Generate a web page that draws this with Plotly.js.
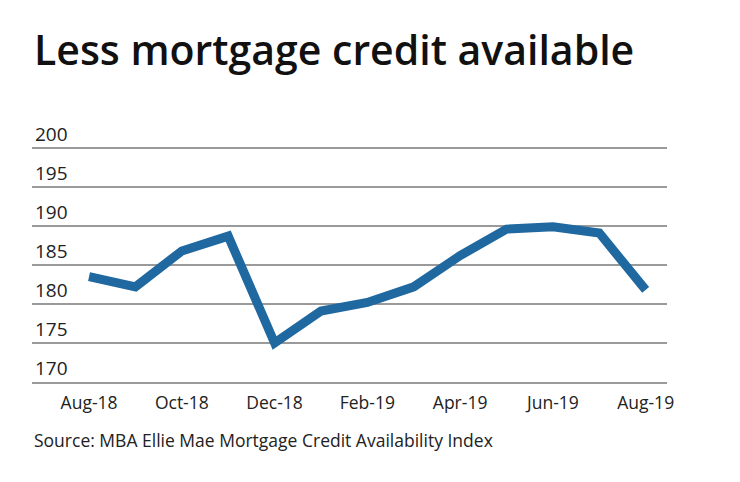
<!DOCTYPE html>
<html>
<head>
<meta charset="utf-8">
<script src="https://cdn.plot.ly/plotly-3.0.1.min.js"></script>
<style>html,body{margin:0;padding:0;background:#fff;}#chart{width:740px;height:482px;}</style>
</head>
<body>
<div id="chart"></div>
<script>
const months = ['Aug-18','Sep-18','Oct-18','Nov-18','Dec-18','Jan-19','Feb-19','Mar-19','Apr-19','May-19','Jun-19','Jul-19','Aug-19'];
const indexValues = [183.5, 182.2, 186.8, 188.7, 175.0, 179.1, 180.2, 182.2, 186.2, 189.6, 189.9, 189.1, 181.8];
const xTickLabels = ['Aug-18','Oct-18','Dec-18','Feb-19','Apr-19','Jun-19','Aug-19'];
const yTickValues = [170, 175, 180, 185, 190, 195, 200];
const titleText = 'Less mortgage credit available';
const sourceText = 'Source: MBA Ellie Mae Mortgage Credit Availability Index';

const fontFam = '"Open Sans", sans-serif';
const data = [{
  x: months, y: indexValues, type: 'scatter', mode: 'lines',
  line: {color: '#1f68a0', width: 9, shape: 'linear'},
  hoverinfo: 'skip'
}];
const layout = {
  width: 740, height: 482,
  margin: {l: 32, r: 73, t: 109, b: 100},
  paper_bgcolor: '#fff', plot_bgcolor: '#fff',
  showlegend: false,
  font: {family: fontFam, color: '#222'},
  title: {text: titleText, x: 34/740, xanchor: 'left', y: 1 - 51/482, yanchor: 'middle', yref: 'container',
          font: {family: fontFam, size: 41, weight: 600, color: '#111'}},
  xaxis: {
    type: 'category', categoryorder: 'array', categoryarray: months,
    range: [-1.23, 12.46],
    tickmode: 'array', tickvals: xTickLabels, ticktext: xTickLabels,
    showgrid: false, zeroline: false, showline: true, linecolor: '#9a9a9a', linewidth: 1.5, ticks: '',
    tickfont: {size: 17.5, color: '#222', family: fontFam}, ticklabelstandoff: 4
  },
  yaxis: {
    range: [170, 205], tickmode: 'array', tickvals: yTickValues,
    showgrid: true, gridcolor: '#9a9a9a', gridwidth: 1.5, zeroline: false, showline: false, ticks: '',
    ticklabelposition: 'inside top', tickfont: {size: 19, color: '#222', family: fontFam}
  },
  annotations: [{
    text: sourceText, xref: 'paper', yref: 'paper', x: 0, xanchor: 'left', y: -58/273, yanchor: 'middle',
    showarrow: false, font: {size: 17.5, color: '#222', family: fontFam}
  }]
};
Plotly.newPlot('chart', data, layout, {displayModeBar: false, staticPlot: true});
</script>
</body>
</html>
